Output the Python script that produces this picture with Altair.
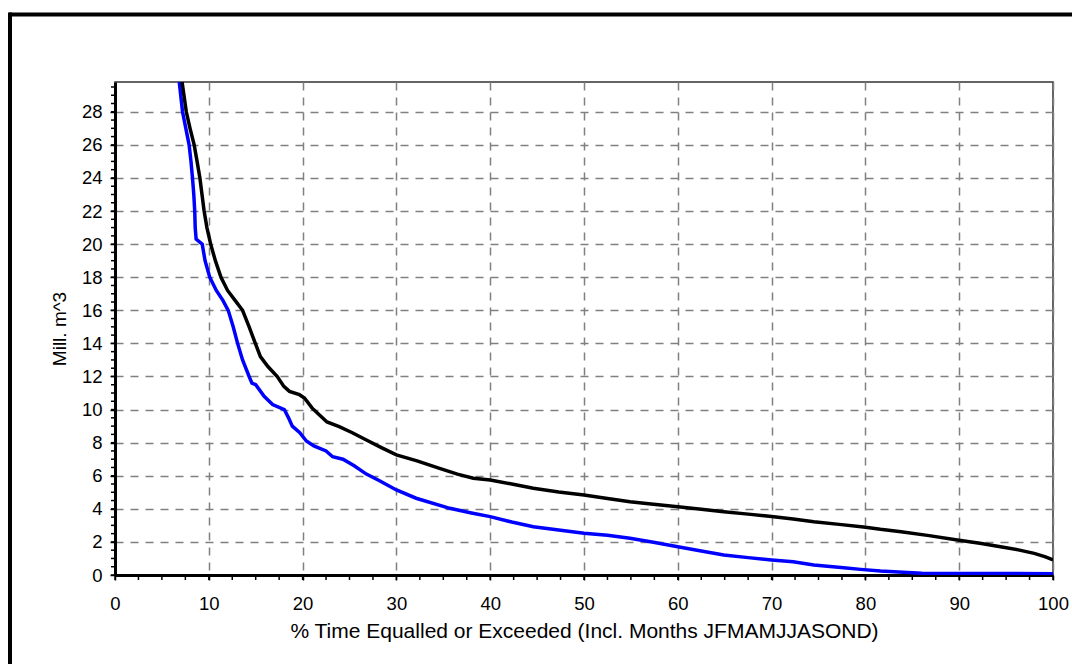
import altair as alt
import pandas as pd

# Black series (upper curve)
black_x = [7.15, 7.6, 8.0, 8.44, 8.75, 9.05, 9.5, 9.8, 10.2, 10.7, 11.3, 12.0, 12.8, 13.6, 14.3,
           14.96, 15.5, 16.3, 17.3, 18.0, 18.6, 19.66, 20.2, 21.0, 21.8, 22.6, 23.9, 25.3, 26.8,
           28.4, 30.0, 32.2, 34.6, 36.5, 38.2, 40.0, 42.3, 44.6, 47.3, 50.0, 52.5, 54.9, 57.4,
           60.0, 62.5, 64.9, 67.5, 70.0, 72.3, 74.5, 77.2, 79.8, 81.6, 83.8, 86.8, 89.8, 92.2,
           94.4, 96.3, 98.0, 99.2, 100.0]
black_y = [29.8, 28.0, 27.0, 26.0, 25.0, 24.0, 22.0, 21.0, 20.0, 19.0, 18.0, 17.2, 16.6, 16.0, 15.0,
           14.0, 13.2, 12.6, 12.0, 11.4, 11.1, 10.9, 10.7, 10.1, 9.67, 9.25, 8.97, 8.6, 8.16,
           7.7, 7.26, 6.9, 6.45, 6.1, 5.85, 5.74, 5.5, 5.24, 5.02, 4.84, 4.62, 4.43, 4.28,
           4.13, 3.98, 3.83, 3.68, 3.53, 3.38, 3.22, 3.06, 2.9, 2.76, 2.62, 2.38, 2.12, 1.92,
           1.71, 1.52, 1.31, 1.1, 0.91]

# Blue series (lower curve)
blue_x = [6.85, 7.2, 7.55, 7.9, 8.1, 8.26, 8.4, 8.5, 8.55, 8.65, 9.3, 9.6, 10.1, 10.8, 11.5,
          12.07, 12.6, 13.07, 13.6, 14.3, 14.6, 15.0, 15.9, 16.8, 18.05, 18.5, 18.9, 19.7,
          20.4, 21.2, 22.5, 23.2, 24.3, 25.5, 26.8, 28.2, 30.0, 32.1, 35.7, 38.0, 40.0, 42.3,
          44.6, 47.3, 50.0, 52.5, 54.9, 57.4, 60.0, 62.5, 64.9, 67.5, 70.0, 72.3, 74.5, 77.4,
          79.5, 81.6, 84.5, 86.0, 100.0]
blue_y = [29.8, 28.0, 27.0, 26.0, 25.0, 24.0, 23.0, 22.0, 21.0, 20.3, 20.0, 19.0, 18.0, 17.2, 16.6,
          16.0, 15.0, 14.0, 13.0, 12.0, 11.6, 11.5, 10.8, 10.3, 10.0, 9.5, 9.0, 8.6,
          8.1, 7.8, 7.5, 7.15, 7.0, 6.6, 6.1, 5.7, 5.14, 4.64, 4.03, 3.75, 3.53, 3.2,
          2.92, 2.72, 2.52, 2.4, 2.22, 1.98, 1.71, 1.45, 1.21, 1.05, 0.91, 0.8, 0.6, 0.46,
          0.34, 0.24, 0.15, 0.1, 0.08]

x_ticks = [0, 10, 20, 30, 40, 50, 60, 70, 80, 90, 100]
y_ticks = [0, 2, 4, 6, 8, 10, 12, 14, 16, 18, 20, 22, 24, 26, 28]
x_minor = [i * 2.5 for i in range(41)]
y_minor = [i * 0.5 for i in range(60)]

x_title = "% Time Equalled or Exceeded (Incl. Months JFMAMJJASOND)"
y_title = "Mill. m^3"

df_black = pd.DataFrame({"pct": black_x, "vol": black_y})
df_blue = pd.DataFrame({"pct": blue_x, "vol": blue_y})
df_xminor = pd.DataFrame({"pct": x_minor})
df_yminor = pd.DataFrame({"vol": y_minor})

W, H = 938, 493
xs = alt.Scale(domain=[0, 100], nice=False, zero=False)
ys = alt.Scale(domain=[0, 29.8], nice=False, zero=False)

FONT = "Liberation Sans"

x_axis = alt.Axis(values=x_ticks, title=x_title, grid=True, labelFlush=False, labelOverlap=False,
                  tickSize=5, labelPadding=14, titleY=62, titleBaseline="alphabetic",
                  labelFontSize=18.5, titleFontSize=21)
y_axis = alt.Axis(values=y_ticks, title=y_title, grid=True, labelOverlap=False, labelFlush=False,
                  tickSize=5, labelPadding=8,
                  titleX=-50, titleBaseline="alphabetic", labelFontSize=18.5, titleFontSize=19)

blue_line = alt.Chart(df_blue).mark_line(color="#0000ff", strokeWidth=3.5, clip=True).encode(
    x=alt.X("pct:Q", scale=xs, axis=x_axis),
    y=alt.Y("vol:Q", scale=ys, axis=y_axis),
)
black_line = alt.Chart(df_black).mark_line(color="#000000", strokeWidth=3.5, clip=True).encode(
    x=alt.X("pct:Q", scale=xs, axis=x_axis),
    y=alt.Y("vol:Q", scale=ys, axis=y_axis),
)

x_minor_ticks = alt.Chart(df_xminor).mark_rule(color="black", strokeWidth=1.5).encode(
    x=alt.X("pct:Q", scale=xs, axis=x_axis),
    y=alt.value(H + 1),
    y2=alt.value(H + 5),
)
y_minor_ticks = alt.Chart(df_yminor).mark_rule(color="black", strokeWidth=1.5).encode(
    y=alt.Y("vol:Q", scale=ys, axis=y_axis),
    x=alt.value(-4),
    x2=alt.value(2),
)

frame_df = pd.DataFrame({"a": [0]})
frame_top = alt.Chart(frame_df).mark_rule(color="black", strokeWidth=4).encode(
    x=alt.value(-106), x2=alt.value(980), y=alt.value(-67.5)
)
frame_left = alt.Chart(frame_df).mark_rule(color="black", strokeWidth=4).encode(
    x=alt.value(-105), y=alt.value(-69.5), y2=alt.value(620)
)

chart = alt.layer(
    blue_line, black_line, x_minor_ticks, y_minor_ticks, frame_top, frame_left
).properties(
    width=W, height=H,
    autosize=alt.AutoSizeParams(type="none"),
    padding={"left": 115, "top": 82, "right": 19, "bottom": 89},
    background="white",
).configure_view(
    stroke="#333333", strokeWidth=1.5
).configure_axis(
    labelFont=FONT, titleFont=FONT, labelColor="black", titleColor="black",
    titleFontWeight="normal",
    gridColor="#808080", gridDash=[8, 7], gridWidth=1.5, gridOpacity=1,
    domainColor="black", domainWidth=3, tickColor="black", tickWidth=1.5,
)

chart.save("out.html", embed_options={"renderer": "svg", "actions": False})
